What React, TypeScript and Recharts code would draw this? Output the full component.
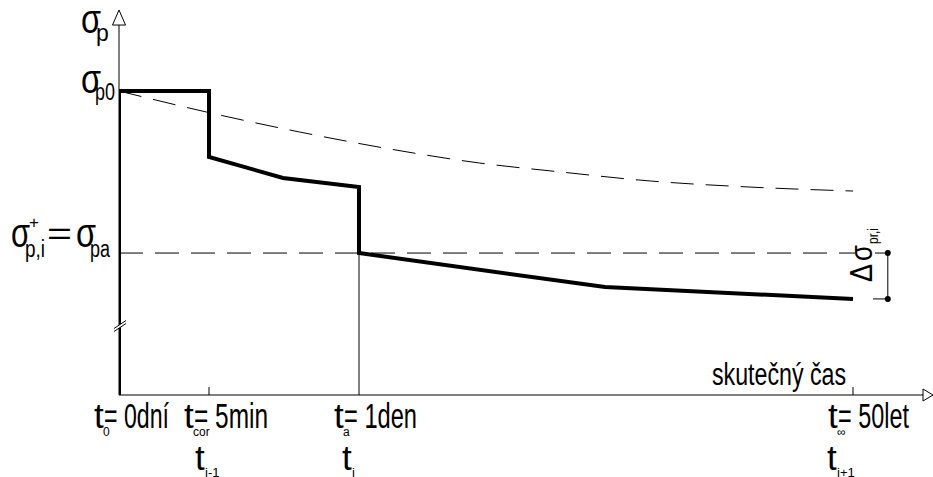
import React from "react";
import {
  ComposedChart,
  Line,
  XAxis,
  YAxis,
  ReferenceLine,
  ReferenceDot,
} from "recharts";

const FONT = "'Liberation Sans Narrow', 'Arial Narrow', 'Liberation Sans', Arial, sans-serif";

// časové body na ose (schéma, osa není v měřítku)
const tickTimes = [0, 11.25, 30, 91.75];
const tickSubs = ["0", "cor", "a", "∞"];
const tickTexts = ["= 0dní", "= 5min", "= 1den", "= 50let"];
const stepSubs = ["", "i-1", "i", "i+1"];

// průběh napětí σp (silná čára)
const stressTimes = [0, 0, 11.25, 11.25, 20.5, 30, 30, 60.75, 91.75];
const stressValues = [0, 1000, 1000, 783, 714, 684, 467, 355, 316];

// čárkovaná křivka
const curveTimes = [0, 11.4, 22.6, 33.25, 45.1, 55.1, 66.4, 78.9, 91.75];
const curveValues = [1000, 928, 865, 812, 763, 734, 704, 684, 671];

const sigmaP0 = 1000;
const sigmaPa = 467;
const sigmaEnd = 316;
const deltaX = 96.1;

const stressData = stressTimes.map((t, i) => ({ t, s: stressValues[i] }));
const curveData = curveTimes.map((t, i) => ({ t, c: curveValues[i] }));

// ruční doladění textů (šířky podle CAD písma)
const textWidths = [65, 74, 73, 71];
const stepDx = [0, -14, -17, -26];

const TimeTick = (props: any) => {
  const { x, payload } = props;
  const i = tickTimes.indexOf(payload.value);
  if (i < 0) return null;
  return (
    <g fontFamily={FONT} fill="#000">
      <text x={x - 25} y={428} fontSize={35}>t</text>
      <text x={x - 16} y={436} fontSize={12}>{tickSubs[i]}</text>
      <text x={x - 15} y={428} fontSize={35} textLength={textWidths[i]} lengthAdjust="spacingAndGlyphs">
        {tickTexts[i]}
      </text>
      {stepSubs[i] && (
        <>
          <text x={x + stepDx[i]} y={470} fontSize={35}>t</text>
          <text x={x + stepDx[i] + 10} y={477} fontSize={13}>{stepSubs[i]}</text>
        </>
      )}
    </g>
  );
};

const StressTick = (props: any) => {
  const { y, payload } = props;
  if (payload.value === sigmaP0) {
    return (
      <g fontFamily={FONT} fill="#000">
        <text x={81} y={y + 2} fontSize={40} textLength={20} lengthAdjust="spacingAndGlyphs">σ</text>
        <text x={95} y={y + 9} fontSize={23} textLength={20} lengthAdjust="spacingAndGlyphs">p0</text>
      </g>
    );
  }
  return (
    <g fontFamily={FONT} fill="#000">
      <text x={11} y={y - 6} fontSize={40} textLength={19} lengthAdjust="spacingAndGlyphs">σ</text>
      <text x={29} y={y - 25} fontSize={17}>+</text>
      <text x={25} y={y + 4} fontSize={23} textLength={20} lengthAdjust="spacingAndGlyphs">p,i</text>
      <text x={47} y={y - 9} fontSize={32} textLength={25} lengthAdjust="spacingAndGlyphs">=</text>
      <text x={76} y={y - 6} fontSize={40} textLength={20} lengthAdjust="spacingAndGlyphs">σ</text>
      <text x={90} y={y + 4} fontSize={23} textLength={20} lengthAdjust="spacingAndGlyphs">pa</text>
    </g>
  );
};

const ArrowUp = (p: any) => (
  <polygon
    points={`${p.cx - 6.5},${p.cy} ${p.cx + 6.5},${p.cy} ${p.cx},${p.cy - 15}`}
    fill="#fff"
    stroke="#000"
    strokeWidth={1}
  />
);

const ArrowRight = (p: any) => (
  <polygon
    points={`${p.cx},${p.cy - 6} ${p.cx},${p.cy + 6} ${p.cx + 10},${p.cy}`}
    fill="#fff"
    stroke="#000"
    strokeWidth={1}
  />
);

const BreakMark = (p: any) => (
  <g>
    <line x1={p.cx - 5} y1={p.cy + 4} x2={p.cx + 7} y2={p.cy - 4} stroke="#fff" strokeWidth={2.5} />
    <line x1={p.cx - 5} y1={p.cy + 5.5} x2={p.cx + 7} y2={p.cy - 2.5} stroke="#000" strokeWidth={1} />
    <line x1={p.cx - 5} y1={p.cy + 2.5} x2={p.cx + 7} y2={p.cy - 5.5} stroke="#000" strokeWidth={1} />
  </g>
);

export default function App() {
  return (
    <div style={{ position: "absolute", left: 0, top: 0, width: 933, height: 477, background: "#fff" }}>
      <ComposedChart
        width={933}
        height={477}
        margin={{ top: 15, right: 14, bottom: 22, left: 20 }}
      >
        <XAxis
          type="number"
          dataKey="t"
          domain={[0, 100]}
          ticks={tickTimes}
          tick={<TimeTick />}
          interval={0}
          axisLine={false}
          tickLine={false}
          height={60}
          allowDataOverflow
        />
        <YAxis
          type="number"
          domain={[0, 1250]}
          ticks={[sigmaP0, sigmaPa]}
          tick={<StressTick />}
          interval={0}
          axisLine={false}
          tickLine={false}
          width={99}
          allowDataOverflow
        />

        {/* osy */}
        <ReferenceLine segment={[{ x: 0, y: 0 }, { x: 100.5, y: 0 }]} stroke="#000" strokeWidth={1} ifOverflow="visible" />
        <ReferenceLine segment={[{ x: 0, y: 0 }, { x: 0, y: 1217 }]} stroke="#000" strokeWidth={1} ifOverflow="visible" />
        <ReferenceDot x={0} y={1217} ifOverflow="visible" shape={ArrowUp} />
        <ReferenceDot x={100.5} y={0} ifOverflow="visible" shape={ArrowRight} />
        <ReferenceLine segment={[{ x: tickTimes[1], y: 0 }, { x: tickTimes[1], y: 26 }]} stroke="#000" strokeWidth={1} />
        <ReferenceLine segment={[{ x: tickTimes[3], y: 0 }, { x: tickTimes[3], y: 26 }]} stroke="#000" strokeWidth={1} />
        <ReferenceLine segment={[{ x: tickTimes[2], y: 0 }, { x: tickTimes[2], y: sigmaPa }]} stroke="#000" strokeWidth={1} />

        {/* čárkované čáry */}
        <ReferenceLine
          segment={[{ x: 0, y: sigmaPa }, { x: deltaX, y: sigmaPa }]}
          stroke="#000"
          strokeWidth={1}
          strokeDasharray="24 12"
        />
        <Line
          data={curveData}
          dataKey="c"
          type="monotone"
          stroke="#000"
          strokeWidth={1}
          strokeDasharray="23 12"
          dot={false}
          isAnimationActive={false}
        />

        {/* silná čára */}
        <Line
          data={stressData}
          dataKey="s"
          type="linear"
          stroke="#000"
          strokeWidth={4}
          strokeLinejoin="miter"
          strokeLinecap="butt"
          dot={false}
          isAnimationActive={false}
        />
        <ReferenceDot x={0} y={227} ifOverflow="visible" shape={BreakMark} />

        {/* Δσ */}
        <ReferenceLine segment={[{ x: deltaX, y: sigmaEnd }, { x: deltaX, y: sigmaPa }]} stroke="#000" strokeWidth={1} ifOverflow="visible" />
        <ReferenceLine segment={[{ x: 94.25, y: sigmaEnd }, { x: deltaX, y: sigmaEnd }]} stroke="#000" strokeWidth={1} ifOverflow="visible" />
        <ReferenceDot x={deltaX} y={sigmaPa} r={3} fill="#000" stroke="none" ifOverflow="visible" />
        <ReferenceDot x={deltaX} y={sigmaEnd} r={3} fill="#000" stroke="none" ifOverflow="visible" />
      </ComposedChart>

      <svg
        width={933}
        height={477}
        style={{ position: "absolute", left: 0, top: 0, pointerEvents: "none" }}
        fontFamily={FONT}
      >
        <text x={81} y={33} fontSize={40} textLength={20} lengthAdjust="spacingAndGlyphs">σ</text>
        <text x={96} y={41} fontSize={23}>p</text>
        <text x={712} y={385} fontSize={31} textLength={134} lengthAdjust="spacingAndGlyphs">skutečný čas</text>
        <g transform="translate(872, 282) rotate(-90)">
          <rect x={-1} y={-17} width={40} height={17} fill="#fff" />
          <text x={0} y={0} fontSize={31} textLength={18} lengthAdjust="spacingAndGlyphs">Δ</text>
          <text x={21} y={0} fontSize={31} textLength={16} lengthAdjust="spacingAndGlyphs">σ</text>
          <text x={38} y={6} fontSize={15} textLength={16} lengthAdjust="spacingAndGlyphs">pr,i</text>
        </g>
      </svg>
    </div>
  );
}
